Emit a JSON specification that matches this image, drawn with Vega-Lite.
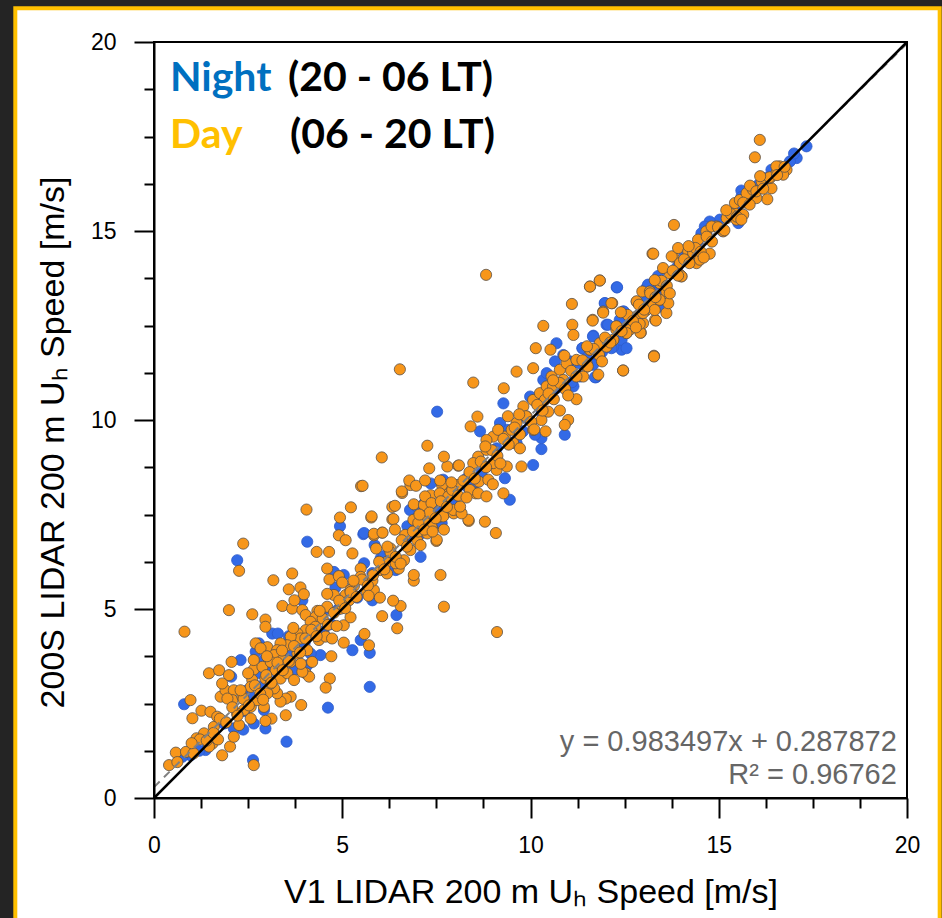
{
"$schema": "https://vega.github.io/schema/vega-lite/v6.json",
"width": 753,
"height": 756,
"autosize": {"type": "none"},
"padding": {"left": 154, "top": 42, "right": 35, "bottom": 120},
"background": "#242424",
"config": {"view": {"stroke": null}},
"datasets": {
"diag": [{"v1": 0, "s200": 0}, {"v1": 20, "s200": 20}],
"fit": [{"v1": 0, "s200": 0.287872}, {"v1": 20, "s200": 19.957812}],
"pts": [
{"v1":2.21,"s200":6.29,"period":"Night"},{"v1":4.07,"s200":6.78,"period":"Night"},{"v1":4.94,"s200":7.19,"period":"Night"},{"v1":5.56,"s200":6.98,"period":"Night"},{"v1":5.86,"s200":6.69,"period":"Night"},{"v1":6.80,"s200":7.62,"period":"Night"},{"v1":7.19,"s200":7.81,"period":"Night"},{"v1":7.35,"s200":8.32,"period":"Night"},{"v1":7.70,"s200":8.28,"period":"Night"},{"v1":7.96,"s200":7.77,"period":"Night"},{"v1":7.61,"s200":7.26,"period":"Night"},{"v1":6.99,"s200":7.42,"period":"Night"},{"v1":6.73,"s200":7.19,"period":"Night"},{"v1":6.64,"s200":6.82,"period":"Night"},{"v1":7.08,"s200":6.38,"period":"Night"},{"v1":6.42,"s200":6.03,"period":"Night"},{"v1":5.80,"s200":5.23,"period":"Night"},{"v1":6.44,"s200":4.84,"period":"Night"},{"v1":4.82,"s200":5.57,"period":"Night"},{"v1":5.04,"s200":5.90,"period":"Night"},{"v1":4.78,"s200":5.98,"period":"Night"},{"v1":5.58,"s200":6.21,"period":"Night"},{"v1":6.02,"s200":6.34,"period":"Night"},{"v1":5.49,"s200":4.18,"period":"Night"},{"v1":5.27,"s200":3.91,"period":"Night"},{"v1":5.73,"s200":3.84,"period":"Night"},{"v1":5.73,"s200":2.94,"period":"Night"},{"v1":4.62,"s200":2.39,"period":"Night"},{"v1":3.52,"s200":1.49,"period":"Night"},{"v1":2.63,"s200":1.00,"period":"Night"},{"v1":2.37,"s200":1.81,"period":"Night"},{"v1":2.12,"s200":1.84,"period":"Night"},{"v1":2.96,"s200":1.84,"period":"Night"},{"v1":2.65,"s200":1.97,"period":"Night"},{"v1":1.86,"s200":1.97,"period":"Night"},{"v1":2.05,"s200":3.21,"period":"Night"},{"v1":2.30,"s200":3.65,"period":"Night"},{"v1":2.79,"s200":4.09,"period":"Night"},{"v1":2.70,"s200":3.87,"period":"Night"},{"v1":2.92,"s200":3.65,"period":"Night"},{"v1":2.83,"s200":3.30,"period":"Night"},{"v1":3.14,"s200":4.35,"period":"Night"},{"v1":3.29,"s200":4.35,"period":"Night"},{"v1":3.58,"s200":4.28,"period":"Night"},{"v1":3.94,"s200":5.23,"period":"Night"},{"v1":4.07,"s200":3.51,"period":"Night"},{"v1":4.42,"s200":3.78,"period":"Night"},{"v1":4.16,"s200":3.82,"period":"Night"},{"v1":4.60,"s200":4.97,"period":"Night"},{"v1":0.80,"s200":2.48,"period":"Night"},{"v1":0.97,"s200":1.13,"period":"Night"},{"v1":0.75,"s200":1.09,"period":"Night"},{"v1":1.37,"s200":1.27,"period":"Night"},{"v1":2.48,"s200":2.85,"period":"Night"},{"v1":2.57,"s200":2.68,"period":"Night"},{"v1":2.92,"s200":2.33,"period":"Night"},{"v1":3.41,"s200":3.51,"period":"Night"},{"v1":3.72,"s200":3.38,"period":"Night"},{"v1":4.34,"s200":4.40,"period":"Night"},{"v1":7.26,"s200":7.53,"period":"Night"},{"v1":7.65,"s200":7.69,"period":"Night"},{"v1":7.96,"s200":8.06,"period":"Night"},{"v1":8.32,"s200":8.23,"period":"Night"},{"v1":6.99,"s200":7.70,"period":"Night"},
{"v1":7.52,"s200":10.22,"period":"Night"},{"v1":9.28,"s200":10.44,"period":"Night"},{"v1":9.45,"s200":7.89,"period":"Night"},{"v1":10.07,"s200":8.81,"period":"Night"},{"v1":10.29,"s200":9.23,"period":"Night"},{"v1":10.91,"s200":9.61,"period":"Night"},{"v1":10.29,"s200":9.52,"period":"Night"},{"v1":10.12,"s200":9.61,"period":"Night"},{"v1":9.32,"s200":8.46,"period":"Night"},{"v1":9.63,"s200":9.39,"period":"Night"},{"v1":9.37,"s200":9.74,"period":"Night"},{"v1":9.99,"s200":10.62,"period":"Night"},{"v1":10.34,"s200":11.06,"period":"Night"},{"v1":10.69,"s200":12.03,"period":"Night"},{"v1":10.87,"s200":11.72,"period":"Night"},{"v1":11.05,"s200":11.55,"period":"Night"},{"v1":11.31,"s200":11.15,"period":"Night"},{"v1":11.14,"s200":10.89,"period":"Night"},{"v1":11.67,"s200":12.23,"period":"Night"},{"v1":11.74,"s200":11.13,"period":"Night"},{"v1":11.98,"s200":13.09,"period":"Night"},{"v1":12.29,"s200":13.51,"period":"Night"},{"v1":12.46,"s200":12.87,"period":"Night"},{"v1":12.02,"s200":12.52,"period":"Night"},{"v1":12.42,"s200":11.86,"period":"Night"},{"v1":12.20,"s200":11.94,"period":"Night"},{"v1":13.08,"s200":13.49,"period":"Night"},{"v1":13.26,"s200":13.62,"period":"Night"},{"v1":13.44,"s200":13.00,"period":"Night"},{"v1":5.58,"s200":7.01,"period":"Night"},{"v1":7.20,"s200":7.80,"period":"Night"},{"v1":7.68,"s200":8.42,"period":"Night"},{"v1":7.99,"s200":7.75,"period":"Night"},{"v1":7.64,"s200":7.27,"period":"Night"},{"v1":8.66,"s200":9.70,"period":"Night"},{"v1":9.19,"s200":9.92,"period":"Night"},{"v1":10.65,"s200":11.55,"period":"Night"},{"v1":10.43,"s200":11.24,"period":"Night"},{"v1":11.38,"s200":11.90,"period":"Night"},{"v1":11.67,"s200":11.50,"period":"Night"},
{"v1":17.33,"s200":17.24,"period":"Night"},{"v1":17.07,"s200":16.93,"period":"Night"},{"v1":16.89,"s200":16.84,"period":"Night"},{"v1":16.40,"s200":16.62,"period":"Night"},{"v1":16.22,"s200":16.40,"period":"Night"},{"v1":16.05,"s200":16.22,"period":"Night"},{"v1":15.60,"s200":16.07,"period":"Night"},{"v1":15.47,"s200":15.52,"period":"Night"},{"v1":15.03,"s200":15.30,"period":"Night"},{"v1":14.76,"s200":15.25,"period":"Night"},{"v1":14.63,"s200":15.12,"period":"Night"},{"v1":14.54,"s200":14.94,"period":"Night"},{"v1":14.45,"s200":14.63,"period":"Night"},{"v1":13.39,"s200":13.81,"period":"Night"},{"v1":13.12,"s200":13.58,"period":"Night"},{"v1":13.30,"s200":13.36,"period":"Night"},{"v1":12.30,"s200":13.51,"period":"Night"},{"v1":11.97,"s200":13.09,"period":"Night"},{"v1":12.48,"s200":12.87,"period":"Night"},{"v1":12.37,"s200":12.65,"period":"Night"},{"v1":12.06,"s200":12.52,"period":"Night"},{"v1":11.66,"s200":12.21,"period":"Night"},{"v1":12.42,"s200":12.12,"period":"Night"},{"v1":12.55,"s200":11.90,"period":"Night"},{"v1":12.15,"s200":11.90,"period":"Night"},{"v1":11.71,"s200":11.13,"period":"Night"},{"v1":11.38,"s200":11.90,"period":"Night"},{"v1":11.66,"s200":11.46,"period":"Night"},{"v1":15.52,"s200":15.21,"period":"Night"},{"v1":15.78,"s200":15.82,"period":"Night"},
{"v1":1.2,"s200":1.25,"period":"Night"},{"v1":1.9,"s200":2.0,"period":"Night"},{"v1":2.4,"s200":2.3,"period":"Night"},{"v1":2.8,"s200":2.95,"period":"Night"},{"v1":3.3,"s200":3.2,"period":"Night"},{"v1":3.6,"s200":3.75,"period":"Night"},{"v1":4.0,"s200":4.1,"period":"Night"},{"v1":4.5,"s200":4.4,"period":"Night"},{"v1":4.9,"s200":5.0,"period":"Night"},{"v1":5.4,"s200":5.3,"period":"Night"},{"v1":5.8,"s200":5.95,"period":"Night"},{"v1":6.3,"s200":6.2,"period":"Night"},{"v1":6.7,"s200":6.85,"period":"Night"},{"v1":7.1,"s200":7.0,"period":"Night"},{"v1":7.5,"s200":7.65,"period":"Night"},{"v1":7.9,"s200":7.8,"period":"Night"},{"v1":8.3,"s200":8.45,"period":"Night"},{"v1":8.7,"s200":8.6,"period":"Night"},{"v1":9.1,"s200":9.25,"period":"Night"},{"v1":9.5,"s200":9.4,"period":"Night"},{"v1":9.9,"s200":10.05,"period":"Night"},{"v1":10.3,"s200":10.2,"period":"Night"},{"v1":10.7,"s200":10.85,"period":"Night"},{"v1":11.1,"s200":11.0,"period":"Night"},{"v1":11.5,"s200":11.65,"period":"Night"},{"v1":11.9,"s200":11.8,"period":"Night"},{"v1":12.3,"s200":12.45,"period":"Night"},{"v1":12.7,"s200":12.6,"period":"Night"},{"v1":13.1,"s200":13.25,"period":"Night"},{"v1":13.5,"s200":13.4,"period":"Night"},{"v1":13.9,"s200":14.05,"period":"Night"},{"v1":14.3,"s200":14.2,"period":"Night"},{"v1":14.7,"s200":14.85,"period":"Night"},{"v1":15.1,"s200":15.0,"period":"Night"},{"v1":15.4,"s200":15.5,"period":"Night"},{"v1":15.8,"s200":15.75,"period":"Night"},{"v1":16.2,"s200":16.3,"period":"Night"},{"v1":16.6,"s200":16.55,"period":"Night"},{"v1":17.0,"s200":17.05,"period":"Night"},
{"v1":3.1,"s200":3.4,"period":"Night"},{"v1":4.7,"s200":4.6,"period":"Night"},{"v1":6.1,"s200":6.4,"period":"Night"},{"v1":8.5,"s200":8.3,"period":"Night"},{"v1":9.8,"s200":9.7,"period":"Night"},{"v1":11.3,"s200":11.5,"period":"Night"},{"v1":12.9,"s200":12.8,"period":"Night"},{"v1":14.1,"s200":14.4,"period":"Night"},{"v1":15.6,"s200":15.9,"period":"Night"},
{"v1":0.81,"s200":4.40,"period":"Day"},{"v1":2.37,"s200":6.73,"period":"Day"},{"v1":2.26,"s200":6.01,"period":"Day"},{"v1":4.05,"s200":7.63,"period":"Day"},{"v1":1.99,"s200":4.97,"period":"Day"},{"v1":3.17,"s200":5.76,"period":"Day"},{"v1":3.67,"s200":5.94,"period":"Day"},{"v1":3.58,"s200":5.52,"period":"Day"},{"v1":5.50,"s200":8.25,"period":"Day"},{"v1":5.23,"s200":7.69,"period":"Day"},{"v1":5.77,"s200":7.42,"period":"Day"},{"v1":4.32,"s200":6.51,"period":"Day"},{"v1":4.65,"s200":6.51,"period":"Day"},{"v1":5.27,"s200":6.47,"period":"Day"},{"v1":4.94,"s200":7.42,"period":"Day"},{"v1":4.91,"s200":6.95,"period":"Day"},{"v1":5.09,"s200":6.82,"period":"Day"},{"v1":5.84,"s200":6.95,"period":"Day"},{"v1":6.06,"s200":7.02,"period":"Day"},{"v1":6.33,"s200":7.70,"period":"Day"},{"v1":6.33,"s200":7.37,"period":"Day"},{"v1":6.59,"s200":8.07,"period":"Day"},{"v1":7.61,"s200":5.90,"period":"Day"},{"v1":7.70,"s200":5.06,"period":"Day"},{"v1":8.36,"s200":7.33,"period":"Day"},{"v1":6.06,"s200":4.81,"period":"Day"},{"v1":6.55,"s200":5.08,"period":"Day"},{"v1":6.35,"s200":5.22,"period":"Day"},{"v1":6.46,"s200":4.49,"period":"Day"},{"v1":6.90,"s200":5.75,"period":"Day"},{"v1":6.90,"s200":5.90,"period":"Day"},{"v1":7.50,"s200":6.80,"period":"Day"},{"v1":5.59,"s200":4.34,"period":"Day"},{"v1":5.71,"s200":4.04,"period":"Day"},{"v1":5.04,"s200":4.11,"period":"Day"},{"v1":4.67,"s200":3.16,"period":"Day"},{"v1":4.56,"s200":2.92,"period":"Day"},{"v1":4.71,"s200":3.75,"period":"Day"},{"v1":3.91,"s200":2.46,"period":"Day"},{"v1":3.50,"s200":2.19,"period":"Day"},{"v1":3.12,"s200":2.10,"period":"Day"},{"v1":2.96,"s200":2.04,"period":"Day"},{"v1":2.65,"s200":0.87,"period":"Day"},{"v1":1.81,"s200":1.13,"period":"Day"},{"v1":2.02,"s200":1.36,"period":"Day"},{"v1":0.40,"s200":0.87,"period":"Day"},{"v1":0.58,"s200":1.20,"period":"Day"},{"v1":1.02,"s200":2.11,"period":"Day"},{"v1":0.97,"s200":2.59,"period":"Day"},{"v1":1.46,"s200":3.30,"period":"Day"},{"v1":1.73,"s200":3.38,"period":"Day"},{"v1":2.06,"s200":3.60,"period":"Day"},{"v1":1.13,"s200":1.58,"period":"Day"},{"v1":1.26,"s200":2.31,"period":"Day"},{"v1":1.50,"s200":2.28,"period":"Day"},{"v1":1.68,"s200":2.15,"period":"Day"},{"v1":1.77,"s200":2.68,"period":"Day"},{"v1":1.90,"s200":2.85,"period":"Day"},{"v1":2.12,"s200":2.85,"period":"Day"},{"v1":2.08,"s200":2.59,"period":"Day"},{"v1":2.35,"s200":2.68,"period":"Day"},{"v1":2.57,"s200":2.41,"period":"Day"},{"v1":2.57,"s200":2.10,"period":"Day"},{"v1":2.65,"s200":3.40,"period":"Day"},{"v1":2.61,"s200":3.12,"period":"Day"},{"v1":2.70,"s200":4.09,"period":"Day"},{"v1":2.61,"s200":4.86,"period":"Day"},{"v1":2.96,"s200":4.72,"period":"Day"},{"v1":2.96,"s200":4.53,"period":"Day"},{"v1":3.01,"s200":3.99,"period":"Day"},{"v1":3.41,"s200":5.08,"period":"Day"},{"v1":3.67,"s200":5.01,"period":"Day"},{"v1":3.89,"s200":5.57,"period":"Day"},{"v1":3.98,"s200":5.39,"period":"Day"},{"v1":3.73,"s200":5.23,"period":"Day"},{"v1":3.94,"s200":4.97,"period":"Day"},{"v1":4.03,"s200":4.84,"period":"Day"},{"v1":4.34,"s200":4.95,"period":"Day"},{"v1":4.60,"s200":6.07,"period":"Day"},{"v1":4.66,"s200":5.78,"period":"Day"},{"v1":4.91,"s200":5.87,"period":"Day"},{"v1":4.60,"s200":5.06,"period":"Day"},{"v1":4.96,"s200":5.01,"period":"Day"},{"v1":5.09,"s200":5.37,"period":"Day"},{"v1":5.31,"s200":5.61,"period":"Day"},{"v1":5.04,"s200":4.57,"period":"Day"},{"v1":5.22,"s200":4.78,"period":"Day"},{"v1":5.49,"s200":6.07,"period":"Day"},{"v1":5.66,"s200":5.46,"period":"Day"},{"v1":5.84,"s200":5.50,"period":"Day"},{"v1":6.19,"s200":6.25,"period":"Day"},{"v1":6.28,"s200":6.60,"period":"Day"},{"v1":6.50,"s200":6.07,"period":"Day"},{"v1":6.64,"s200":6.29,"period":"Day"},{"v1":6.81,"s200":6.56,"period":"Day"},{"v1":6.99,"s200":6.82,"period":"Day"},{"v1":7.08,"s200":6.69,"period":"Day"},{"v1":7.26,"s200":7.00,"period":"Day"},{"v1":7.39,"s200":7.13,"period":"Day"},{"v1":7.57,"s200":7.44,"period":"Day"},{"v1":7.79,"s200":7.57,"period":"Day"},{"v1":7.96,"s200":7.53,"period":"Day"},{"v1":8.14,"s200":7.57,"period":"Day"},{"v1":7.17,"s200":7.35,"period":"Day"},{"v1":7.35,"s200":8.01,"period":"Day"},{"v1":7.61,"s200":8.06,"period":"Day"},{"v1":7.83,"s200":8.06,"period":"Day"},{"v1":6.81,"s200":8.28,"period":"Day"},{"v1":7.65,"s200":8.28,"period":"Day"},{"v1":8.05,"s200":8.28,"period":"Day"},{"v1":8.54,"s200":8.06,"period":"Day"},{"v1":8.63,"s200":8.37,"period":"Day"},{"v1":6.90,"s200":7.77,"period":"Day"},{"v1":7.17,"s200":7.75,"period":"Day"},{"v1":5.49,"s200":5.85,"period":"Day"},{"v1":5.80,"s200":5.75,"period":"Day"},{"v1":6.02,"s200":6.03,"period":"Day"},{"v1":6.19,"s200":5.94,"period":"Day"},{"v1":6.42,"s200":6.21,"period":"Day"},{"v1":5.22,"s200":5.50,"period":"Day"},{"v1":5.18,"s200":5.23,"period":"Day"},{"v1":5.00,"s200":5.10,"period":"Day"},{"v1":4.78,"s200":5.37,"period":"Day"},{"v1":4.47,"s200":4.75,"period":"Day"},{"v1":4.29,"s200":4.79,"period":"Day"},{"v1":4.16,"s200":4.66,"period":"Day"},{"v1":4.29,"s200":4.53,"period":"Day"},{"v1":4.03,"s200":4.44,"period":"Day"},{"v1":3.81,"s200":4.35,"period":"Day"},{"v1":3.89,"s200":4.22,"period":"Day"},{"v1":3.63,"s200":4.27,"period":"Day"},{"v1":3.54,"s200":4.04,"period":"Day"},{"v1":3.36,"s200":4.09,"period":"Day"},{"v1":3.27,"s200":3.91,"period":"Day"},{"v1":3.19,"s200":3.78,"period":"Day"},{"v1":3.41,"s200":3.65,"period":"Day"},{"v1":3.63,"s200":3.60,"period":"Day"},{"v1":3.81,"s200":3.82,"period":"Day"},{"v1":4.07,"s200":3.91,"period":"Day"},{"v1":4.38,"s200":4.18,"period":"Day"},{"v1":4.56,"s200":4.27,"period":"Day"},{"v1":4.73,"s200":4.22,"period":"Day"},{"v1":4.03,"s200":3.30,"period":"Day"},{"v1":4.12,"s200":3.21,"period":"Day"},{"v1":3.94,"s200":3.34,"period":"Day"},{"v1":3.63,"s200":2.68,"period":"Day"},{"v1":3.50,"s200":2.63,"period":"Day"},{"v1":3.36,"s200":2.55,"period":"Day"},{"v1":3.27,"s200":2.77,"period":"Day"},{"v1":3.19,"s200":2.90,"period":"Day"},{"v1":3.01,"s200":2.77,"period":"Day"},{"v1":2.92,"s200":2.41,"period":"Day"},{"v1":2.74,"s200":2.59,"period":"Day"},{"v1":2.88,"s200":3.47,"period":"Day"},{"v1":2.96,"s200":3.16,"period":"Day"},{"v1":3.10,"s200":3.03,"period":"Day"},{"v1":3.10,"s200":3.60,"period":"Day"},{"v1":3.23,"s200":3.38,"period":"Day"},{"v1":3.36,"s200":3.16,"period":"Day"},{"v1":3.54,"s200":3.30,"period":"Day"},{"v1":3.72,"s200":3.12,"period":"Day"},{"v1":2.83,"s200":3.96,"period":"Day"},{"v1":2.65,"s200":3.65,"period":"Day"},{"v1":2.57,"s200":2.94,"period":"Day"},{"v1":2.39,"s200":2.33,"period":"Day"},{"v1":2.12,"s200":1.62,"period":"Day"},{"v1":1.59,"s200":1.88,"period":"Day"},{"v1":1.42,"s200":1.62,"period":"Day"},{"v1":1.33,"s200":1.71,"period":"Day"},{"v1":1.55,"s200":1.44,"period":"Day"},{"v1":1.46,"s200":1.36,"period":"Day"},{"v1":1.95,"s200":2.63,"period":"Day"},{"v1":1.99,"s200":3.25,"period":"Day"},{"v1":1.81,"s200":3.03,"period":"Day"},{"v1":2.21,"s200":2.23,"period":"Day"},{"v1":2.26,"s200":1.93,"period":"Day"},
{"v1":8.82,"s200":13.84,"period":"Day"},{"v1":6.53,"s200":11.34,"period":"Day"},{"v1":8.48,"s200":10.99,"period":"Day"},{"v1":6.05,"s200":9.01,"period":"Day"},{"v1":7.26,"s200":9.32,"period":"Day"},{"v1":7.31,"s200":8.72,"period":"Day"},{"v1":7.79,"s200":8.77,"period":"Day"},{"v1":7.70,"s200":9.03,"period":"Day"},{"v1":8.08,"s200":8.79,"period":"Day"},{"v1":8.59,"s200":10.09,"period":"Day"},{"v1":8.41,"s200":9.83,"period":"Day"},{"v1":9.29,"s200":10.84,"period":"Day"},{"v1":9.63,"s200":11.28,"period":"Day"},{"v1":10.07,"s200":11.37,"period":"Day"},{"v1":10.14,"s200":11.90,"period":"Day"},{"v1":10.34,"s200":12.49,"period":"Day"},{"v1":10.53,"s200":11.86,"period":"Day"},{"v1":11.10,"s200":13.07,"period":"Day"},{"v1":11.11,"s200":12.52,"period":"Day"},{"v1":11.14,"s200":12.25,"period":"Day"},{"v1":11.58,"s200":13.53,"period":"Day"},{"v1":11.84,"s200":13.69,"period":"Day"},{"v1":11.65,"s200":12.65,"period":"Day"},{"v1":11.93,"s200":12.87,"period":"Day"},{"v1":12.17,"s200":13.09,"period":"Day"},{"v1":12.82,"s200":13.13,"period":"Day"},{"v1":13.24,"s200":14.40,"period":"Day"},{"v1":13.28,"s200":11.70,"period":"Day"},{"v1":12.46,"s200":11.31,"period":"Day"},{"v1":12.93,"s200":12.31,"period":"Day"},{"v1":13.31,"s200":12.65,"period":"Day"},{"v1":11.22,"s200":10.55,"period":"Day"},{"v1":10.78,"s200":10.25,"period":"Day"},{"v1":11.00,"s200":10.00,"period":"Day"},{"v1":10.91,"s200":9.87,"period":"Day"},{"v1":9.76,"s200":8.77,"period":"Day"},{"v1":9.08,"s200":7.01,"period":"Day"},{"v1":8.79,"s200":7.31,"period":"Day"},{"v1":8.35,"s200":7.36,"period":"Day"},{"v1":5.78,"s200":7.45,"period":"Day"},{"v1":5.54,"s200":8.26,"period":"Day"},{"v1":6.36,"s200":7.38,"period":"Day"},{"v1":6.40,"s200":7.73,"period":"Day"},{"v1":5.84,"s200":6.99,"period":"Day"},{"v1":6.07,"s200":7.02,"period":"Day"},{"v1":7.51,"s200":6.83,"period":"Day"},{"v1":6.58,"s200":8.11,"period":"Day"},{"v1":6.78,"s200":8.40,"period":"Day"},{"v1":6.96,"s200":8.26,"period":"Day"},{"v1":7.20,"s200":8.40,"period":"Day"},{"v1":7.20,"s200":7.98,"period":"Day"},{"v1":7.37,"s200":7.80,"period":"Day"},{"v1":7.59,"s200":8.06,"period":"Day"},{"v1":7.82,"s200":7.98,"period":"Day"},{"v1":7.95,"s200":7.62,"period":"Day"},{"v1":8.17,"s200":7.53,"period":"Day"},{"v1":8.39,"s200":8.15,"period":"Day"},{"v1":8.61,"s200":8.06,"period":"Day"},{"v1":8.83,"s200":7.98,"period":"Day"},{"v1":8.88,"s200":8.42,"period":"Day"},{"v1":9.10,"s200":8.68,"period":"Day"},{"v1":9.37,"s200":8.77,"period":"Day"},{"v1":9.28,"s200":8.06,"period":"Day"},{"v1":8.61,"s200":9.03,"period":"Day"},{"v1":8.48,"s200":8.86,"period":"Day"},{"v1":8.83,"s200":9.21,"period":"Day"},{"v1":9.01,"s200":9.56,"period":"Day"},{"v1":9.32,"s200":9.56,"period":"Day"},{"v1":9.54,"s200":9.39,"period":"Day"},{"v1":9.72,"s200":9.25,"period":"Day"},{"v1":9.50,"s200":9.74,"period":"Day"},{"v1":9.81,"s200":10.36,"period":"Day"},{"v1":10.07,"s200":10.53,"period":"Day"},{"v1":10.25,"s200":10.71,"period":"Day"},{"v1":10.43,"s200":10.89,"period":"Day"},{"v1":10.56,"s200":11.15,"period":"Day"},{"v1":10.78,"s200":11.33,"period":"Day"},{"v1":10.96,"s200":11.50,"period":"Day"},{"v1":11.22,"s200":11.59,"period":"Day"},{"v1":11.49,"s200":11.41,"period":"Day"},{"v1":11.58,"s200":11.86,"period":"Day"},{"v1":11.84,"s200":11.94,"period":"Day"},{"v1":12.20,"s200":12.12,"period":"Day"},{"v1":12.55,"s200":12.30,"period":"Day"},{"v1":12.82,"s200":12.74,"period":"Day"},{"v1":13.08,"s200":12.91,"period":"Day"},{"v1":13.26,"s200":13.05,"period":"Day"},{"v1":13.44,"s200":13.18,"period":"Day"},{"v1":13.61,"s200":13.40,"period":"Day"},{"v1":13.44,"s200":13.66,"period":"Day"},{"v1":13.70,"s200":13.88,"period":"Day"},{"v1":13.97,"s200":14.15,"period":"Day"},{"v1":13.79,"s200":14.32,"period":"Day"},{"v1":14.01,"s200":13.80,"period":"Day"},{"v1":13.61,"s200":12.83,"period":"Day"},{"v1":12.99,"s200":12.56,"period":"Day"},{"v1":12.29,"s200":12.47,"period":"Day"},{"v1":10.87,"s200":11.06,"period":"Day"},{"v1":10.60,"s200":10.89,"period":"Day"},{"v1":10.38,"s200":10.53,"period":"Day"},{"v1":9.90,"s200":10.09,"period":"Day"},{"v1":9.63,"s200":9.92,"period":"Day"},{"v1":10.29,"s200":10.00,"period":"Day"},{"v1":10.47,"s200":10.22,"period":"Day"},{"v1":10.07,"s200":9.74,"period":"Day"},{"v1":9.14,"s200":9.74,"period":"Day"},{"v1":8.83,"s200":9.47,"period":"Day"},{"v1":9.01,"s200":8.86,"period":"Day"},{"v1":8.13,"s200":7.71,"period":"Day"},{"v1":7.68,"s200":7.45,"period":"Day"},{"v1":7.37,"s200":7.18,"period":"Day"},{"v1":7.02,"s200":7.05,"period":"Day"},{"v1":6.67,"s200":6.96,"period":"Day"},{"v1":6.89,"s200":7.36,"period":"Day"},{"v1":9.11,"s200":4.39,"period":"Day"},
{"v1":16.09,"s200":17.41,"period":"Day"},{"v1":15.96,"s200":16.95,"period":"Day"},{"v1":13.81,"s200":15.16,"period":"Day"},{"v1":13.26,"s200":14.40,"period":"Day"},{"v1":11.84,"s200":13.69,"period":"Day"},{"v1":11.58,"s200":13.53,"period":"Day"},{"v1":12.15,"s200":13.09,"period":"Day"},{"v1":11.93,"s200":12.84,"period":"Day"},{"v1":11.65,"s200":12.63,"period":"Day"},{"v1":13.28,"s200":11.68,"period":"Day"},{"v1":12.46,"s200":11.31,"period":"Day"},{"v1":13.33,"s200":12.63,"period":"Day"},{"v1":12.92,"s200":12.31,"period":"Day"},{"v1":16.29,"s200":15.84,"period":"Day"},{"v1":14.76,"s200":14.40,"period":"Day"},{"v1":13.97,"s200":13.84,"period":"Day"},{"v1":13.66,"s200":13.09,"period":"Day"},{"v1":12.82,"s200":13.14,"period":"Day"},{"v1":12.97,"s200":13.40,"period":"Day"},{"v1":13.17,"s200":13.40,"period":"Day"},{"v1":13.43,"s200":13.62,"period":"Day"},{"v1":13.52,"s200":14.02,"period":"Day"},{"v1":13.75,"s200":14.33,"period":"Day"},{"v1":13.92,"s200":14.55,"period":"Day"},{"v1":14.19,"s200":14.46,"period":"Day"},{"v1":14.41,"s200":14.15,"period":"Day"},{"v1":14.23,"s200":14.24,"period":"Day"},{"v1":14.01,"s200":13.80,"period":"Day"},{"v1":13.97,"s200":14.15,"period":"Day"},{"v1":13.43,"s200":13.18,"period":"Day"},{"v1":13.30,"s200":12.91,"period":"Day"},{"v1":12.99,"s200":12.83,"period":"Day"},{"v1":12.90,"s200":12.54,"period":"Day"},{"v1":12.64,"s200":12.39,"period":"Day"},{"v1":12.55,"s200":12.30,"period":"Day"},{"v1":12.28,"s200":12.39,"period":"Day"},{"v1":12.20,"s200":12.12,"period":"Day"},{"v1":12.02,"s200":11.94,"period":"Day"},{"v1":11.84,"s200":12.03,"period":"Day"},{"v1":11.58,"s200":11.86,"period":"Day"},{"v1":11.49,"s200":11.50,"period":"Day"},{"v1":11.40,"s200":11.15,"period":"Day"},{"v1":14.67,"s200":14.99,"period":"Day"},{"v1":14.94,"s200":15.12,"period":"Day"},{"v1":15.12,"s200":14.99,"period":"Day"},{"v1":15.21,"s200":15.34,"period":"Day"},{"v1":15.38,"s200":15.52,"period":"Day"},{"v1":15.47,"s200":15.30,"period":"Day"},{"v1":15.65,"s200":15.43,"period":"Day"},{"v1":15.43,"s200":15.74,"period":"Day"},{"v1":15.56,"s200":15.82,"period":"Day"},{"v1":15.83,"s200":15.82,"period":"Day"},{"v1":15.74,"s200":16.00,"period":"Day"},{"v1":16.00,"s200":15.87,"period":"Day"},{"v1":15.91,"s200":16.09,"period":"Day"},{"v1":15.83,"s200":16.20,"period":"Day"},{"v1":16.14,"s200":16.31,"period":"Day"},{"v1":16.40,"s200":16.13,"period":"Day"},{"v1":16.36,"s200":16.40,"period":"Day"},{"v1":16.53,"s200":16.53,"period":"Day"},{"v1":16.62,"s200":16.71,"period":"Day"},{"v1":16.80,"s200":16.62,"period":"Day"},{"v1":16.71,"s200":16.49,"period":"Day"},{"v1":16.53,"s200":16.71,"period":"Day"},{"v1":14.81,"s200":15.12,"period":"Day"},{"v1":14.45,"s200":14.77,"period":"Day"},{"v1":14.32,"s200":14.42,"period":"Day"},{"v1":14.50,"s200":14.24,"period":"Day"},
{"v1":0.62,"s200":0.95,"period":"Day"},{"v1":0.85,"s200":1.22,"period":"Day"},{"v1":1.05,"s200":1.18,"period":"Day"},{"v1":1.22,"s200":1.55,"period":"Day"},{"v1":1.4,"s200":1.52,"period":"Day"},{"v1":1.58,"s200":1.72,"period":"Day"},{"v1":1.75,"s200":2.1,"period":"Day"},{"v1":1.92,"s200":2.0,"period":"Day"},{"v1":2.08,"s200":2.4,"period":"Day"},{"v1":2.22,"s200":2.18,"period":"Day"},{"v1":2.38,"s200":2.62,"period":"Day"},{"v1":2.52,"s200":2.45,"period":"Day"},{"v1":2.68,"s200":2.98,"period":"Day"},{"v1":2.82,"s200":2.76,"period":"Day"},{"v1":2.98,"s200":3.25,"period":"Day"},{"v1":3.12,"s200":3.05,"period":"Day"},{"v1":3.28,"s200":3.58,"period":"Day"},{"v1":3.42,"s200":3.38,"period":"Day"},{"v1":3.58,"s200":3.62,"period":"Day"},{"v1":3.72,"s200":4.02,"period":"Day"},{"v1":3.88,"s200":3.85,"period":"Day"},{"v1":4.02,"s200":4.22,"period":"Day"},{"v1":4.18,"s200":4.45,"period":"Day"},{"v1":4.32,"s200":4.28,"period":"Day"},{"v1":4.48,"s200":4.75,"period":"Day"},{"v1":4.62,"s200":4.58,"period":"Day"},{"v1":4.78,"s200":4.9,"period":"Day"},{"v1":4.92,"s200":5.22,"period":"Day"},{"v1":5.08,"s200":5.02,"period":"Day"},{"v1":5.22,"s200":5.45,"period":"Day"},{"v1":5.38,"s200":5.32,"period":"Day"},{"v1":5.52,"s200":5.78,"period":"Day"},{"v1":5.68,"s200":5.62,"period":"Day"},{"v1":5.82,"s200":5.9,"period":"Day"},{"v1":5.98,"s200":6.25,"period":"Day"},{"v1":6.12,"s200":6.05,"period":"Day"},{"v1":6.28,"s200":6.5,"period":"Day"},{"v1":6.42,"s200":6.38,"period":"Day"},{"v1":6.58,"s200":6.82,"period":"Day"},{"v1":6.72,"s200":6.65,"period":"Day"},{"v1":6.88,"s200":7.05,"period":"Day"},{"v1":7.02,"s200":7.28,"period":"Day"},{"v1":7.18,"s200":7.1,"period":"Day"},{"v1":7.32,"s200":7.55,"period":"Day"},{"v1":7.48,"s200":7.4,"period":"Day"},{"v1":7.62,"s200":7.85,"period":"Day"},{"v1":7.78,"s200":7.7,"period":"Day"},{"v1":7.92,"s200":8.15,"period":"Day"},{"v1":8.08,"s200":8.0,"period":"Day"},{"v1":8.22,"s200":8.4,"period":"Day"},{"v1":8.38,"s200":8.62,"period":"Day"},{"v1":8.52,"s200":8.45,"period":"Day"},{"v1":8.68,"s200":8.9,"period":"Day"},{"v1":8.82,"s200":8.75,"period":"Day"},{"v1":8.98,"s200":9.2,"period":"Day"},{"v1":9.12,"s200":9.05,"period":"Day"},{"v1":9.28,"s200":9.5,"period":"Day"},{"v1":9.42,"s200":9.35,"period":"Day"},{"v1":9.58,"s200":9.8,"period":"Day"},{"v1":9.72,"s200":9.62,"period":"Day"},{"v1":9.88,"s200":10.1,"period":"Day"},{"v1":10.02,"s200":9.95,"period":"Day"},{"v1":10.18,"s200":10.4,"period":"Day"},{"v1":10.32,"s200":10.25,"period":"Day"},{"v1":10.48,"s200":10.7,"period":"Day"},{"v1":10.62,"s200":10.55,"period":"Day"},{"v1":10.78,"s200":10.98,"period":"Day"},{"v1":10.92,"s200":10.82,"period":"Day"},{"v1":11.08,"s200":11.3,"period":"Day"},{"v1":11.22,"s200":11.15,"period":"Day"},{"v1":11.38,"s200":11.58,"period":"Day"},{"v1":11.52,"s200":11.42,"period":"Day"},{"v1":11.68,"s200":11.88,"period":"Day"},{"v1":11.82,"s200":11.72,"period":"Day"},{"v1":11.98,"s200":12.18,"period":"Day"},{"v1":12.12,"s200":12.05,"period":"Day"},{"v1":12.28,"s200":12.48,"period":"Day"},{"v1":12.42,"s200":12.35,"period":"Day"},{"v1":12.58,"s200":12.78,"period":"Day"},{"v1":12.72,"s200":12.62,"period":"Day"},{"v1":12.88,"s200":13.05,"period":"Day"},{"v1":13.02,"s200":12.92,"period":"Day"},{"v1":13.18,"s200":13.35,"period":"Day"},{"v1":13.32,"s200":13.25,"period":"Day"},{"v1":13.48,"s200":13.68,"period":"Day"},{"v1":13.62,"s200":13.55,"period":"Day"},{"v1":13.78,"s200":13.95,"period":"Day"},{"v1":13.92,"s200":13.82,"period":"Day"},{"v1":14.08,"s200":14.25,"period":"Day"},{"v1":14.22,"s200":14.15,"period":"Day"},{"v1":14.38,"s200":14.55,"period":"Day"},{"v1":14.52,"s200":14.45,"period":"Day"},{"v1":14.68,"s200":14.85,"period":"Day"},{"v1":14.82,"s200":14.72,"period":"Day"},{"v1":14.98,"s200":15.1,"period":"Day"},{"v1":15.15,"s200":15.02,"period":"Day"},{"v1":15.32,"s200":15.45,"period":"Day"},{"v1":15.48,"s200":15.38,"period":"Day"},{"v1":15.65,"s200":15.75,"period":"Day"},{"v1":15.82,"s200":15.7,"period":"Day"},{"v1":16.0,"s200":16.05,"period":"Day"},{"v1":16.18,"s200":16.12,"period":"Day"},{"v1":16.35,"s200":16.42,"period":"Day"},{"v1":16.55,"s200":16.48,"period":"Day"},{"v1":16.75,"s200":16.7,"period":"Day"},
{"v1":1.0,"s200":1.45,"period":"Day"},{"v1":1.7,"s200":1.55,"period":"Day"},{"v1":2.3,"s200":2.85,"period":"Day"},{"v1":2.9,"s200":2.6,"period":"Day"},{"v1":3.4,"s200":3.9,"period":"Day"},{"v1":3.9,"s200":3.55,"period":"Day"},{"v1":4.4,"s200":4.95,"period":"Day"},{"v1":4.85,"s200":4.55,"period":"Day"},{"v1":5.3,"s200":5.75,"period":"Day"},{"v1":5.7,"s200":5.35,"period":"Day"},{"v1":6.2,"s200":6.65,"period":"Day"},{"v1":6.55,"s200":6.2,"period":"Day"},{"v1":7.05,"s200":7.5,"period":"Day"},{"v1":7.4,"s200":7.05,"period":"Day"},{"v1":7.9,"s200":8.35,"period":"Day"},{"v1":8.3,"s200":7.95,"period":"Day"},{"v1":8.8,"s200":9.3,"period":"Day"},{"v1":9.2,"s200":8.85,"period":"Day"},{"v1":9.7,"s200":10.15,"period":"Day"},{"v1":10.1,"s200":9.75,"period":"Day"},{"v1":10.6,"s200":11.05,"period":"Day"},{"v1":11.0,"s200":10.65,"period":"Day"},{"v1":11.5,"s200":11.95,"period":"Day"},{"v1":11.9,"s200":11.55,"period":"Day"},{"v1":12.4,"s200":12.85,"period":"Day"},{"v1":12.8,"s200":12.45,"period":"Day"},{"v1":13.3,"s200":13.7,"period":"Day"},{"v1":13.7,"s200":13.35,"period":"Day"},{"v1":14.2,"s200":14.6,"period":"Day"},{"v1":14.6,"s200":14.3,"period":"Day"},{"v1":15.2,"s200":15.55,"period":"Day"},{"v1":15.6,"s200":15.3,"period":"Day"},{"v1":16.1,"s200":16.45,"period":"Day"},{"v1":3.0,"s200":3.75,"period":"Day"},{"v1":4.6,"s200":5.4,"period":"Day"},{"v1":5.9,"s200":6.6,"period":"Day"},{"v1":7.6,"s200":8.4,"period":"Day"},{"v1":9.4,"s200":10.1,"period":"Day"},{"v1":10.9,"s200":11.7,"period":"Day"},{"v1":2.5,"s200":3.3,"period":"Day"},{"v1":3.7,"s200":4.5,"period":"Day"},{"v1":5.0,"s200":5.7,"period":"Day"},{"v1":6.4,"s200":7.1,"period":"Day"},{"v1":8.1,"s200":8.8,"period":"Day"},{"v1":9.0,"s200":8.3,"period":"Day"},{"v1":10.4,"s200":9.7,"period":"Day"},{"v1":4.2,"s200":3.6,"period":"Day"},{"v1":6.0,"s200":5.3,"period":"Day"},{"v1":7.7,"s200":7.1,"period":"Day"},{"v1":11.8,"s200":11.2,"period":"Day"}
]
},
"layer": [
{
"data": {"values": [{}]},
"mark": {"type": "rect", "fill": "white", "stroke": "#FFC000", "strokeWidth": 4},
"encoding": {
"x": {"datum": -3.684, "type": "quantitative", "title": "V1 LIDAR 200 m Uₕ Speed [m/s]", "scale": {"domain": [0, 20], "nice": false, "zero": false}},
"x2": {"datum": 20.868},
"y": {"datum": -3.6, "type": "quantitative", "title": "200S LIDAR 200 m Uₕ Speed [m/s]", "scale": {"domain": [0, 20], "nice": false, "zero": false}},
"y2": {"datum": 20.891}
}
},
{
"data": {"name": "pts"},
"mark": {"type": "circle", "size": 125, "strokeWidth": 0.8, "opacity": 1},
"encoding": {
"x": {"field": "v1", "type": "quantitative", "title": "V1 LIDAR 200 m Uₕ Speed [m/s]",
"axis": {"values": [0, 1.25, 2.5, 3.75, 5, 6.25, 7.5, 8.75, 10, 11.25, 12.5, 13.75, 15, 16.25, 17.5, 18.75, 20],
"labelExpr": "datum.value % 5 === 0 ? format(datum.value, 'd') : ''",
"tickSize": {"condition": {"test": "datum.value % 5 === 0", "value": 20}, "value": 10},
"tickWidth": 2, "tickColor": "black", "domainColor": "black", "domainWidth": 2, "grid": false,
"labelFont": "Liberation Sans", "labelFontSize": 23, "labelColor": "black", "labelPadding": 16, "labelFlush": false, "labelOverlap": false,
"titleFont": "Liberation Sans", "titleFontSize": 34, "titleFontWeight": "normal", "titleColor": "black", "titleBaseline": "alphabetic", "titleY": 104, "zindex": 2}},
"y": {"field": "s200", "type": "quantitative", "title": "200S LIDAR 200 m Uₕ Speed [m/s]",
"axis": {"values": [0, 1.25, 2.5, 3.75, 5, 6.25, 7.5, 8.75, 10, 11.25, 12.5, 13.75, 15, 16.25, 17.5, 18.75, 20],
"labelExpr": "datum.value % 5 === 0 ? format(datum.value, 'd') : ''",
"tickSize": {"condition": {"test": "datum.value % 5 === 0", "value": 20}, "value": 10},
"tickWidth": 2, "tickColor": "black", "domainColor": "black", "domainWidth": 2, "grid": false,
"labelFont": "Liberation Sans", "labelFontSize": 23, "labelColor": "black", "labelPadding": 18, "labelOverlap": false, "labelFlush": false,
"titleFont": "Liberation Sans", "titleFontSize": 34, "titleFontWeight": "normal", "titleColor": "black", "titleBaseline": "alphabetic", "titleX": -91, "titleY": 400, "zindex": 2}},
"fill": {"field": "period", "type": "nominal", "scale": {"domain": ["Night", "Day"], "range": ["#336AE6", "#F7961A"]}, "legend": null},
"stroke": {"field": "period", "type": "nominal", "scale": {"domain": ["Night", "Day"], "range": ["#2D5BC9", "#5A5048"]}, "legend": null}
}
},
{
"data": {"name": "fit"},
"mark": {"type": "line", "color": "#808080", "strokeWidth": 2, "strokeDash": [8, 6]},
"encoding": {
"x": {"field": "v1", "type": "quantitative", "title": "V1 LIDAR 200 m Uₕ Speed [m/s]"},
"y": {"field": "s200", "type": "quantitative", "title": "200S LIDAR 200 m Uₕ Speed [m/s]"}
}
},
{
"data": {"name": "diag"},
"mark": {"type": "line", "color": "black", "strokeWidth": 2.5},
"encoding": {
"x": {"field": "v1", "type": "quantitative", "title": "V1 LIDAR 200 m Uₕ Speed [m/s]"},
"y": {"field": "s200", "type": "quantitative", "title": "200S LIDAR 200 m Uₕ Speed [m/s]"}
}
},
{
"data": {"values": [{}]},
"mark": {"type": "rect", "fill": "white", "fillOpacity": 0, "stroke": "black", "strokeWidth": 2},
"encoding": {
"x": {"datum": 0, "type": "quantitative", "title": "V1 LIDAR 200 m Uₕ Speed [m/s]"},
"x2": {"datum": 20},
"y": {"datum": 0, "type": "quantitative", "title": "200S LIDAR 200 m Uₕ Speed [m/s]"},
"y2": {"datum": 20}
}
},
{
"data": {"values": [{}]},
"mark": {"type": "text", "text": "Night", "font": "Lato", "fontWeight": "bold", "fontSize": 41, "color": "#0070C0", "align": "left", "baseline": "alphabetic"},
"encoding": {"x": {"datum": 0.425, "type": "quantitative", "title": "V1 LIDAR 200 m Uₕ Speed [m/s]"}, "y": {"datum": 18.7, "type": "quantitative", "title": "200S LIDAR 200 m Uₕ Speed [m/s]"}}
},
{
"data": {"values": [{}]},
"mark": {"type": "text", "text": "(20 - 06 LT)", "font": "Lato", "fontWeight": "bold", "fontSize": 41, "color": "black", "align": "left", "baseline": "alphabetic"},
"encoding": {"x": {"datum": 3.56, "type": "quantitative", "title": "V1 LIDAR 200 m Uₕ Speed [m/s]"}, "y": {"datum": 18.7, "type": "quantitative", "title": "200S LIDAR 200 m Uₕ Speed [m/s]"}}
},
{
"data": {"values": [{}]},
"mark": {"type": "text", "text": "Day", "font": "Lato", "fontWeight": "bold", "fontSize": 41, "color": "#FFC000", "align": "left", "baseline": "alphabetic"},
"encoding": {"x": {"datum": 0.425, "type": "quantitative", "title": "V1 LIDAR 200 m Uₕ Speed [m/s]"}, "y": {"datum": 17.2, "type": "quantitative", "title": "200S LIDAR 200 m Uₕ Speed [m/s]"}}
},
{
"data": {"values": [{}]},
"mark": {"type": "text", "text": "(06 - 20 LT)", "font": "Lato", "fontWeight": "bold", "fontSize": 41, "color": "black", "align": "left", "baseline": "alphabetic"},
"encoding": {"x": {"datum": 3.61, "type": "quantitative", "title": "V1 LIDAR 200 m Uₕ Speed [m/s]"}, "y": {"datum": 17.2, "type": "quantitative", "title": "200S LIDAR 200 m Uₕ Speed [m/s]"}}
},
{
"data": {"values": [{}]},
"mark": {"type": "text", "text": "y = 0.983497x + 0.287872", "font": "Liberation Sans", "fontSize": 29, "color": "#666666", "align": "right", "baseline": "alphabetic"},
"encoding": {"x": {"datum": 19.73, "type": "quantitative", "title": "V1 LIDAR 200 m Uₕ Speed [m/s]"}, "y": {"datum": 1.24, "type": "quantitative", "title": "200S LIDAR 200 m Uₕ Speed [m/s]"}}
},
{
"data": {"values": [{}]},
"mark": {"type": "text", "text": "R² = 0.96762", "font": "Liberation Sans", "fontSize": 29, "color": "#666666", "align": "right", "baseline": "alphabetic"},
"encoding": {"x": {"datum": 19.73, "type": "quantitative", "title": "V1 LIDAR 200 m Uₕ Speed [m/s]"}, "y": {"datum": 0.36, "type": "quantitative", "title": "200S LIDAR 200 m Uₕ Speed [m/s]"}}
}
]
}
